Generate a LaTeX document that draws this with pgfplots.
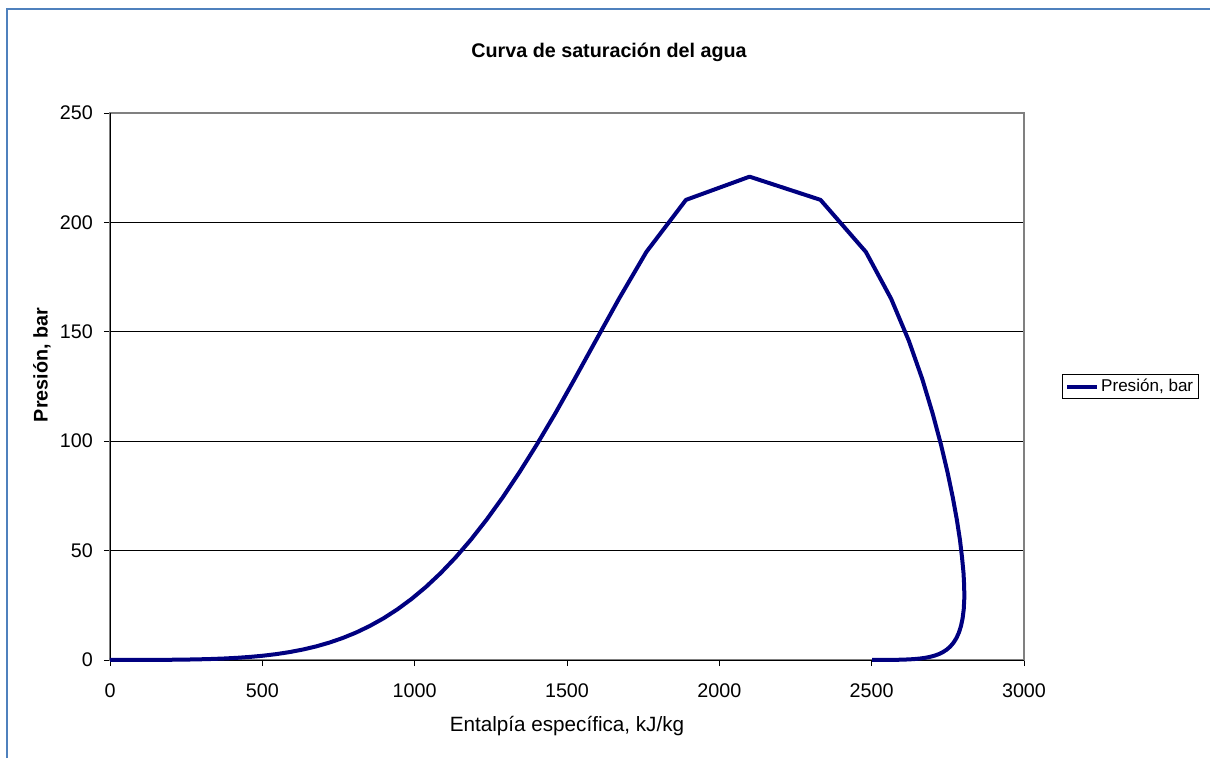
\documentclass[border=0pt]{standalone}
\usepackage{fontspec}
\setmainfont{Liberation Sans}
\usepackage{pgfplots}
\pgfplotsset{compat=1.18}
\definecolor{curve}{RGB}{0,0,128}
\definecolor{frameblue}{RGB}{79,129,189}
\begin{document}
\begin{tikzpicture}[x=1pt,y=1pt]
\useasboundingbox (0,0) rectangle (907.5,568.5);
\draw[frameblue, line width=1.5pt] (5.25,0) -- (5.25,561.75) -- (907.5,561.75);
\begin{axis}[
  at={(82.5pt,73.5pt)}, anchor=south west,
  scale only axis, width=685.5pt, height=410.25pt,
  xmin=0, xmax=3000, ymin=0, ymax=250,
  xtick={0,500,...,3000}, ytick={0,50,...,250},
  tick align=outside, xtick pos=left, ytick pos=left,
  major tick length=4.5pt,
  tick style={black, line width=0.75pt},
  ymajorgrids, major grid style={black, line width=0.75pt},
  axis line style={draw=gray, line width=1.5pt},
  /pgf/number format/assume math mode=true,
  /pgf/number format/1000 sep={},
  tick label style={font=\fontsize{14.8}{17}\selectfont},
  xticklabel style={anchor=north, inner sep=0pt, yshift=-13pt},
  yticklabel style={anchor=east, inner sep=0pt, xshift=-8.25pt},
  clip=false,
  legend style={at={(1.0416,0.5)}, anchor=west, draw=black, line width=0.75pt,
    font=\fontsize{12.8}{14}\selectfont, inner xsep=2pt, inner ysep=1.5pt},
  legend cell align=left,
  legend image code/.code={\draw[#1] (0pt,0pt) -- (22pt,0pt);},
]
\draw[black, line width=0.75pt] (rel axis cs:0,1) -- (rel axis cs:0,0) -- (rel axis cs:1,0);
\addplot[curve, line width=3pt, line join=round] coordinates {
(0.0,0.00611)(42.0,0.01228)(83.9,0.02339)(125.8,0.04246)(167.6,0.07384)(209.3,0.1235)
(251.1,0.1994)(293.0,0.3119)(334.9,0.4739)(376.9,0.7014)(419.0,1.014)(461.3,1.433)
(503.7,1.985)(546.3,2.701)(589.1,3.613)(632.2,4.758)(675.6,6.178)(719.2,7.917)
(763.2,10.02)(807.6,12.54)(852.5,15.54)(897.8,19.06)(943.6,23.18)(990.1,27.95)
(1037.3,33.44)(1085.4,39.73)(1134.4,46.88)(1184.5,54.99)(1236.0,64.12)(1289.1,74.36)
(1344.0,85.81)(1401.3,98.56)(1461.5,112.7)(1525.3,128.5)(1594.2,145.9)(1670.6,165.1)
(1760.5,186.5)(1890.5,210.3)(2099.3,220.9)
(2332.1,210.3)(2481.0,186.5)(2563.9,165.1)(2622.0,145.9)(2665.9,128.5)(2700.1,112.7)
(2727.3,98.56)(2749.0,85.81)(2766.2,74.36)(2779.6,64.12)(2789.7,54.99)(2796.6,46.88)
(2801.5,39.73)(2803.8,33.44)(2804.0,27.95)(2802.2,23.18)(2798.5,19.06)(2793.2,15.54)
(2786.4,12.54)(2778.2,10.02)(2768.7,7.917)(2758.1,6.178)(2746.5,4.758)(2733.9,3.613)
(2720.5,2.701)(2706.3,1.985)(2691.5,1.433)(2676.1,1.014)(2660.1,0.7014)(2643.7,0.4739)
(2626.8,0.3119)(2609.6,0.1994)(2592.1,0.1235)(2574.3,0.07384)(2556.3,0.04246)
(2538.1,0.02339)(2519.8,0.01228)(2501.4,0.00611)
};
\addlegendentry{Presión, bar}
\end{axis}
\node[font=\bfseries\fontsize{14.8}{17}\selectfont] at (456.75,529.5) {Curva de saturación del agua};
\node[rotate=90, font=\bfseries\fontsize{14.8}{17}\selectfont] at (31.5,294.75) {Presión, bar};
\node[font=\fontsize{15.5}{18}\selectfont] at (425.25,24) {Entalpía específica, kJ/kg};
\end{tikzpicture}
\end{document}
